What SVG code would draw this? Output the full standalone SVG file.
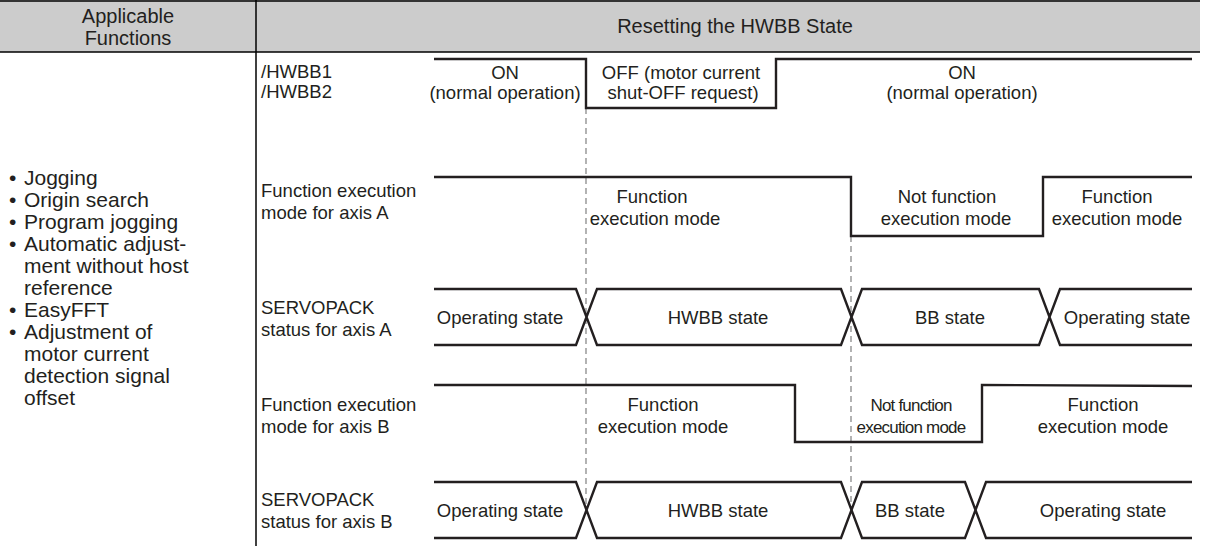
<svg xmlns="http://www.w3.org/2000/svg" width="1213" height="546" viewBox="0 0 1213 546">
<style>
text{font-family:"Liberation Sans",Arial,sans-serif;fill:#231f20}
.h{font-size:20px;text-anchor:middle}
.b{font-size:21px}
.lab{font-size:18.5px}
.t{font-size:18.5px;text-anchor:middle}
.n{font-size:17px;text-anchor:middle;letter-spacing:-0.8px}
.sig{fill:none;stroke:#231f20;stroke-width:2.4;stroke-linejoin:miter}
.dash{fill:none;stroke:#8a8a8a;stroke-width:1.3;stroke-dasharray:6 4}
.grid{stroke:#000;stroke-width:1.5;fill:none}
</style>
<rect x="0" y="0" width="1200" height="52" fill="#cccccc"/>
<g id="table" class="grid">
<line x1="0" y1="1" x2="1200" y2="1"/>
<line x1="0" y1="52" x2="1200" y2="52"/>
<line x1="256" y1="0" x2="256" y2="546"/>
</g>
<g id="header">
<text class="h" x="128" y="23">Applicable</text>
<text class="h" x="128" y="45">Functions</text>
<text class="h" x="735" y="33">Resetting the HWBB State</text>
</g>
<g id="functions" class="b">
<text y="185"><tspan x="9">•</tspan><tspan x="24">Jogging</tspan></text>
<text y="207"><tspan x="9">•</tspan><tspan x="24">Origin search</tspan></text>
<text y="229"><tspan x="9">•</tspan><tspan x="24">Program jogging</tspan></text>
<text y="251"><tspan x="9">•</tspan><tspan x="24">Automatic adjust-</tspan></text>
<text x="24" y="273">ment without host</text>
<text x="24" y="295">reference</text>
<text y="317"><tspan x="9">•</tspan><tspan x="24">EasyFFT</tspan></text>
<text y="339"><tspan x="9">•</tspan><tspan x="24">Adjustment of</tspan></text>
<text x="24" y="361">motor current</text>
<text x="24" y="383">detection signal</text>
<text x="24" y="405">offset</text>
</g>
<g id="labels" class="lab">
<text x="261" y="78">/HWBB1</text>
<text x="261" y="98">/HWBB2</text>
<text x="261" y="197">Function execution</text>
<text x="261" y="219">mode for axis A</text>
<text x="261" y="314">SERVOPACK</text>
<text x="261" y="336">status for axis A</text>
<text x="261" y="411">Function execution</text>
<text x="261" y="433">mode for axis B</text>
<text x="261" y="506">SERVOPACK</text>
<text x="261" y="528">status for axis B</text>
</g>
<g id="connectors">
<path class="dash" d="M586 108V510"/>
<path class="dash" d="M851 236V510"/>
<path id="hwbb" class="sig" d="M434 59H586V108H776V59H1192"/>
<path id="fa" class="sig" d="M434 177H851V236H1043V177H1192"/>
<path id="sa" class="sig" d="M434 289H576L597 345H841L862 289H1039L1060 345H1192M434 345H576L597 289H841L862 345H1039L1060 289H1192"/>
<path id="fb" class="sig" d="M434 385H795V442H982V385L1192 386"/>
<path id="sb" class="sig" d="M434 482H576L597 538H841L862 482H965L986 538H1192M434 538H576L597 482H841L862 538H965L986 482H1192"/>
</g>
<g id="row-hwbb" class="t">
<text x="505" y="79">ON</text>
<text x="505" y="99">(normal operation)</text>
<text x="681" y="79">OFF (motor current</text>
<text x="683" y="99">shut-OFF request)</text>
<text x="962" y="79">ON</text>
<text x="962" y="99">(normal operation)</text>
</g>
<g id="row-fa" class="t">
<text x="652" y="203">Function</text>
<text x="655" y="225">execution mode</text>
<text x="947" y="203">Not function</text>
<text x="946" y="225">execution mode</text>
<text x="1117" y="203">Function</text>
<text x="1117" y="225">execution mode</text>
</g>
<g id="row-sa" class="t">
<text x="500" y="324">Operating state</text>
<text x="718" y="324">HWBB state</text>
<text x="950" y="324">BB state</text>
<text x="1127" y="324">Operating state</text>
</g>
<g id="row-fb">
<text class="t" x="663" y="411">Function</text>
<text class="t" x="663" y="433">execution mode</text>
<text class="n" x="911" y="411">Not function</text>
<text class="n" x="911" y="433">execution mode</text>
<text class="t" x="1103" y="411">Function</text>
<text class="t" x="1103" y="433">execution mode</text>
</g>
<g id="row-sb" class="t">
<text x="500" y="517">Operating state</text>
<text x="718" y="517">HWBB state</text>
<text x="910" y="517">BB state</text>
<text x="1103" y="517">Operating state</text>
</g>
</svg>
